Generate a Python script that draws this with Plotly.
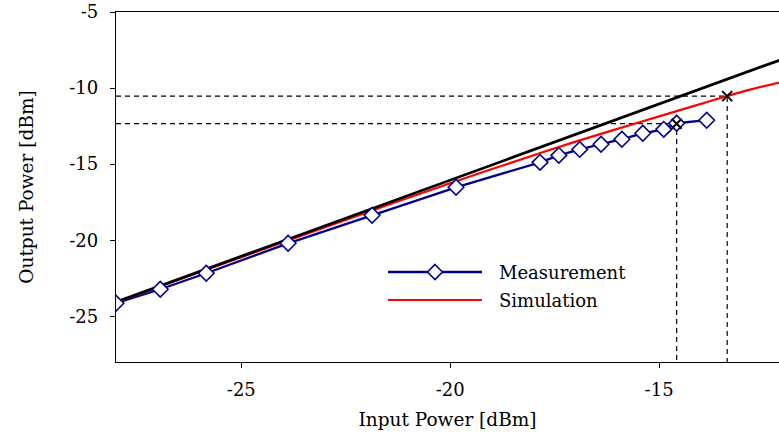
import plotly.graph_objects as go

meas_in = [-28.0, -26.94, -25.84, -23.88, -21.87, -19.86, -17.85, -17.4, -16.9,
           -16.39, -15.89, -15.39, -14.89, -14.58, -13.86]
meas_out = [-24.14, -23.22, -22.17, -20.20, -18.36, -16.52, -14.88, -14.42, -14.03,
            -13.69, -13.36, -12.97, -12.71, -12.31, -12.11]

# Simulation curve
sim_in = [-28, -26, -24, -22, -20, -19, -18, -17, -16, -15, -14, -13, -12]
sim_out = [-24.08, -22.10, -20.13, -18.17, -16.25, -15.32, -14.41, -13.52,
           -12.68, -11.86, -11.04, -10.23, -9.55]

# Ideal linear response
lin_in = [-28, -12]
lin_out = [-24.05, -8.05]

# 1 dB compression markers
p1db_sim = (-13.37, -10.53)
p1db_meas = (-14.58, -12.34)

x_ticks = [-25, -20, -15]
x_ticktext = ["-25", "-20", "-15"]
y_ticks = [-25, -20, -15, -10, -5]
y_ticktext = ["-25", "-20", "-15", "-10", "-5"]

x_range = [-28, -12.13]
y_range = [-28, -5]

FONT = "DejaVu Serif"
NAVY = "#00008B"

fig = go.Figure()

# dashed guide lines
for (px, py) in (p1db_sim, p1db_meas):
    fig.add_trace(go.Scatter(
        x=[x_range[0], px, px], y=[py, py, y_range[0]], mode="lines",
        line=dict(color="black", width=1.2, dash="5px,4px"),
        showlegend=False, hoverinfo="skip"))

# measurement line (beneath)
fig.add_trace(go.Scatter(x=meas_in, y=meas_out, mode="lines",
                         line=dict(color=NAVY, width=2.3), showlegend=False))
# simulation
fig.add_trace(go.Scatter(x=sim_in, y=sim_out, mode="lines", line_shape="spline",
                         line=dict(color="#FF0000", width=2.2), showlegend=False))
# linear
fig.add_trace(go.Scatter(x=lin_in, y=lin_out, mode="lines",
                         line=dict(color="black", width=2.8), showlegend=False))
# measurement markers on top
fig.add_trace(go.Scatter(x=meas_in, y=meas_out, mode="markers",
                         marker=dict(symbol="diamond", size=12, color="white",
                                     line=dict(color=NAVY, width=1.6)),
                         showlegend=False))
# compression markers
fig.add_trace(go.Scatter(x=[p1db_sim[0], p1db_meas[0]], y=[p1db_sim[1], p1db_meas[1]],
                         mode="markers",
                         marker=dict(symbol="x-thin", size=10, color="black",
                                     line=dict(color="black", width=2)),
                         showlegend=False))

W, H = 779, 435
L, R, T, B = 116, 0, 12, 73
pw, ph = W - L - R, H - T - B

def xp(px):
    return (px - L) / pw

def yp(py):
    return (H - B - py) / ph

shapes = [
    dict(type="line", xref="paper", yref="paper", x0=xp(388), x1=xp(482),
         y0=yp(272), y1=yp(272), line=dict(color=NAVY, width=2.3)),
    dict(type="path", xref="paper", yref="paper", xsizemode="pixel", ysizemode="pixel",
         xanchor=xp(435), yanchor=yp(272), path="M0,7.5 L7.5,0 L0,-7.5 L-7.5,0 Z",
         fillcolor="white", line=dict(color=NAVY, width=1.6)),
    dict(type="line", xref="paper", yref="paper", x0=xp(388), x1=xp(482),
         y0=yp(300), y1=yp(300), line=dict(color="#FF0000", width=2.2)),
]
annotations = [
    dict(text="Measurement", xref="paper", yref="paper", x=xp(497), y=yp(272),
         xanchor="left", yanchor="middle", showarrow=False,
         font=dict(family=FONT, size=18, color="black")),
    dict(text="Simulation", xref="paper", yref="paper", x=xp(497), y=yp(300),
         xanchor="left", yanchor="middle", showarrow=False,
         font=dict(family=FONT, size=18, color="black")),
]

fig.update_layout(
    width=W, height=H, autosize=False,
    margin=dict(l=L, r=R, t=T, b=B),
    paper_bgcolor="white", plot_bgcolor="white",
    font=dict(family=FONT, size=18, color="black"),
    showlegend=False,
    shapes=shapes, annotations=annotations,
    xaxis=dict(range=x_range, tickvals=x_ticks, ticktext=x_ticktext,
               showline=True, linecolor="black", linewidth=1.3, mirror=True,
               ticks="outside", ticklen=5, tickwidth=1, tickcolor="black",
               showgrid=False, zeroline=False, ticklabelstandoff=6,
               ticklabeloverflow="allow",
               title=dict(text="Input Power [dBm]", standoff=14,
                          font=dict(family=FONT, size=18.5))),
    yaxis=dict(range=y_range, tickvals=y_ticks, ticktext=y_ticktext,
               showline=True, linecolor="black", linewidth=1.3, mirror=False,
               ticks="outside", ticklen=5, tickwidth=1, tickcolor="black",
               showgrid=False, zeroline=False, ticklabelstandoff=8,
               ticklabeloverflow="allow",
               title=dict(text="Output Power [dBm]", standoff=30,
                          font=dict(family=FONT, size=18.5))),
)

fig.write_html(
    "out.html",
    config={"displayModeBar": False},
    post_script="document.body.style.margin='0';document.body.style.overflow='hidden';",
)
